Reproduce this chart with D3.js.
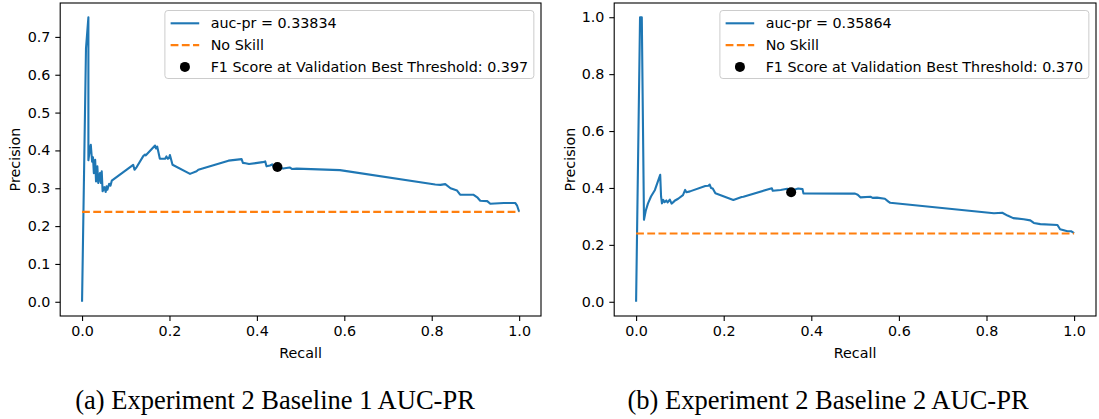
<!DOCTYPE html>
<html>
<head>
<meta charset="utf-8">
<script src="https://cdn.jsdelivr.net/npm/d3@7"></script>
<style>
  html, body { margin: 0; padding: 0; background: #fff; }
  svg { display: block; }
</style>
</head>
<body>
<svg id="chart" width="1099" height="419"></svg>
<script>
// Precision-recall curve, baseline 1
const recallA = [0, 0.009, 0.0145, 0.0145, 0.018, 0.020, 0.023, 0.025, 0.027, 0.030, 0.032, 0.035, 0.037,
  0.041, 0.043, 0.045, 0.047, 0.051, 0.054, 0.056, 0.058, 0.062, 0.065, 0.068, 0.117, 0.120, 0.125, 0.140,
  0.144, 0.146, 0.167, 0.169, 0.172, 0.178, 0.190, 0.193, 0.196, 0.199, 0.201, 0.207, 0.247, 0.262, 0.266,
  0.335, 0.365, 0.368, 0.374, 0.382, 0.413, 0.419, 0.422, 0.430, 0.435, 0.440, 0.447, 0.460, 0.475, 0.480,
  0.491, 0.590, 0.808, 0.820, 0.831, 0.843, 0.858, 0.865, 0.895, 0.905, 0.911, 0.927, 0.934, 0.965, 0.991,
  0.995, 1.0];
const precisionA = [0, 0.67, 0.752, 0.374, 0.405, 0.415, 0.370, 0.382, 0.340, 0.375, 0.318, 0.358, 0.314,
  0.340, 0.314, 0.345, 0.292, 0.303, 0.290, 0.305, 0.296, 0.312, 0.307, 0.320, 0.362, 0.349, 0.356, 0.385,
  0.389, 0.387, 0.413, 0.405, 0.410, 0.378, 0.378, 0.384, 0.378, 0.380, 0.388, 0.362, 0.338, 0.345, 0.349,
  0.373, 0.377, 0.367, 0.366, 0.364, 0.369, 0.371, 0.358, 0.360, 0.363, 0.353, 0.356, 0.352, 0.355, 0.351,
  0.352, 0.348, 0.310, 0.309, 0.311, 0.300, 0.294, 0.283, 0.283, 0.275, 0.267, 0.266, 0.259, 0.261, 0.261,
  0.255, 0.238];

// Precision-recall curve, baseline 2
const recallB = [0, 0.009, 0.013, 0.018, 0.022, 0.027, 0.034, 0.043, 0.055, 0.057, 0.059, 0.062, 0.065, 0.069,
  0.072, 0.077, 0.081, 0.085, 0.088, 0.096, 0.107, 0.112, 0.115, 0.123, 0.158, 0.165, 0.168, 0.171, 0.175,
  0.181, 0.222, 0.241, 0.245, 0.310, 0.312, 0.330, 0.345, 0.357, 0.370, 0.380, 0.382, 0.489, 0.500, 0.506,
  0.512, 0.535, 0.540, 0.550, 0.568, 0.576, 0.580, 0.817, 0.836, 0.848, 0.861, 0.885, 0.900, 0.908, 0.923,
  0.962, 0.968, 0.985, 0.993, 1.0];
const precisionB = [0, 1.0, 1.0, 0.288, 0.320, 0.345, 0.370, 0.393, 0.446, 0.370, 0.346, 0.358, 0.350, 0.356,
  0.349, 0.359, 0.345, 0.350, 0.355, 0.362, 0.375, 0.393, 0.385, 0.388, 0.407, 0.408, 0.412, 0.400, 0.398,
  0.381, 0.358, 0.368, 0.369, 0.399, 0.390, 0.393, 0.397, 0.392, 0.398, 0.396, 0.381, 0.380, 0.380, 0.376,
  0.367, 0.369, 0.365, 0.366, 0.362, 0.352, 0.348, 0.311, 0.313, 0.303, 0.294, 0.290, 0.286, 0.277, 0.273,
  0.270, 0.255, 0.248, 0.248, 0.241];

// No-skill baselines (positive class rate)
const noSkillA = 0.2376;
const noSkillB = 0.240;

// Operating point at the validation-selected threshold
const bestPointA = [0.447, 0.356];
const bestPointB = [0.354, 0.385];

const aucLabelA = "auc-pr = 0.33834";
const aucLabelB = "auc-pr = 0.35864";
const thresholdLabelA = "F1 Score at Validation Best Threshold: 0.397";
const thresholdLabelB = "F1 Score at Validation Best Threshold: 0.370";
const noSkillLabel = "No Skill";

const xTickValues = [0, 0.2, 0.4, 0.6, 0.8, 1.0];
const yTickValuesA = [0, 0.1, 0.2, 0.3, 0.4, 0.5, 0.6, 0.7];
const yTickValuesB = [0, 0.2, 0.4, 0.6, 0.8, 1.0];

const captionA = "(a) Experiment 2 Baseline 1 AUC-PR";
const captionB = "(b) Experiment 2 Baseline 2 AUC-PR";

const BLUE = "#1f77b4", ORANGE = "#ff7f0e";
const FONT = "'DejaVu Sans', sans-serif";
const FS = 14.3;

const svg = d3.select("#chart");

function drawPanel(p) {
  const w = p.right - p.left, h = p.bottom - p.top;
  const g = svg.append("g").attr("transform", `translate(${p.left},${p.top})`);

  const x = d3.scaleLinear().domain([-0.05, 1.05]).range([0, w]);
  const lo = Math.min(d3.min(p.precision), p.noSkill), hi = d3.max(p.precision);
  const pad = (hi - lo) * 0.05;
  const y = d3.scaleLinear().domain([lo - pad, hi + pad]).range([h, 0]);

  const pts = p.recall.map((r, i) => [r, p.precision[i]]);
  const line = d3.line().x(d => x(d[0])).y(d => y(d[1]));

  g.append("path").datum(pts).attr("d", line)
    .attr("fill", "none").attr("stroke", BLUE).attr("stroke-width", 2.1)
    .attr("stroke-linejoin", "round").attr("stroke-linecap", "butt");

  g.append("path").datum([[0, p.noSkill], [1, p.noSkill]]).attr("d", line)
    .attr("fill", "none").attr("stroke", ORANGE).attr("stroke-width", 2.1)
    .attr("stroke-dasharray", "7.8,3.4");

  g.append("circle").attr("cx", x(p.best[0])).attr("cy", y(p.best[1]))
    .attr("r", 5).attr("fill", "#000");

  // axes
  const xAxis = d3.axisBottom(x).tickValues(xTickValues).tickFormat(d3.format(".1f"))
    .tickSizeInner(4.9).tickSizeOuter(0).tickPadding(4.9);
  const yAxis = d3.axisLeft(y).tickValues(p.yTicks).tickFormat(d3.format(".1f"))
    .tickSizeInner(4.9).tickSizeOuter(0).tickPadding(4.9);

  const gx = g.append("g").attr("transform", `translate(0,${h})`).call(xAxis);
  const gy = g.append("g").call(yAxis);
  [gx, gy].forEach(a => {
    a.select(".domain").remove();
    a.selectAll("line").attr("stroke", "#000").attr("stroke-width", 1.1);
    a.selectAll("text").attr("font-family", FONT).attr("font-size", FS).attr("fill", "#000");
  });

  // frame
  g.append("rect").attr("x", 0).attr("y", 0).attr("width", w).attr("height", h)
    .attr("fill", "none").attr("stroke", "#000").attr("stroke-width", 1.1);

  g.append("text").attr("x", w / 2).attr("y", h + 42).attr("text-anchor", "middle")
    .attr("font-family", FONT).attr("font-size", FS).text("Recall");
  g.append("text").attr("transform", `translate(${p.ylabelX - p.left},${h / 2}) rotate(-90)`)
    .attr("text-anchor", "middle").attr("dominant-baseline", "central")
    .attr("font-family", FONT).attr("font-size", FS).text("Precision");

  // legend, upper right
  const lg = g.append("g");
  const entries = [
    { label: p.aucLabel, kind: "line" },
    { label: noSkillLabel, kind: "dash" },
    { label: p.thrLabel, kind: "dot" }
  ];
  const bp = 0.4 * FS, hl = 2 * FS, htp = 0.8 * FS, rowH = 21.8, firstRow = 12.8;
  const texts = entries.map((e, i) => lg.append("text")
    .attr("y", firstRow + rowH * i).attr("dominant-baseline", "central")
    .attr("font-family", FONT).attr("font-size", FS).attr("fill", "#000").text(e.label));
  const tw = d3.max(texts, t => t.node().getComputedTextLength());
  const lw = bp + hl + htp + tw + bp;
  const lh = 68;
  const lx = w - 0.5 * FS - lw, ly = 7.5;
  lg.attr("transform", `translate(${lx},${ly})`);
  lg.insert("rect", ":first-child").attr("width", lw).attr("height", lh).attr("rx", 3)
    .attr("fill", "#fff").attr("fill-opacity", 0.8).attr("stroke", "#cccccc").attr("stroke-width", 1);
  texts.forEach(t => t.attr("x", bp + hl + htp));
  entries.forEach((e, i) => {
    const cy = firstRow + rowH * i;
    if (e.kind === "line" || e.kind === "dash") {
      lg.append("line").attr("x1", bp).attr("x2", bp + hl).attr("y1", cy).attr("y2", cy)
        .attr("stroke", e.kind === "line" ? BLUE : ORANGE).attr("stroke-width", 2.1)
        .attr("stroke-dasharray", e.kind === "dash" ? "7.8,3.4" : null);
    } else {
      lg.append("circle").attr("cx", bp + hl / 2).attr("cy", cy).attr("r", 5).attr("fill", "#000");
    }
  });

  svg.append("text").attr("x", p.captionX).attr("y", 409).attr("text-anchor", "middle")
    .attr("font-family", "'Liberation Serif', 'Times New Roman', serif").attr("font-size", 26.5)
    .attr("fill", "#000").text(p.caption);
}

drawPanel({
  left: 60.2, right: 541, top: 3, bottom: 316, ylabelX: 15,
  recall: recallA, precision: precisionA, noSkill: noSkillA, best: bestPointA,
  yTicks: yTickValuesA, aucLabel: aucLabelA, thrLabel: thresholdLabelA,
  caption: captionA, captionX: 275
});
drawPanel({
  left: 614.2, right: 1096, top: 3, bottom: 316, ylabelX: 570,
  recall: recallB, precision: precisionB, noSkill: noSkillB, best: bestPointB,
  yTicks: yTickValuesB, aucLabel: aucLabelB, thrLabel: thresholdLabelB,
  caption: captionB, captionX: 828
});
</script>
</body>
</html>
